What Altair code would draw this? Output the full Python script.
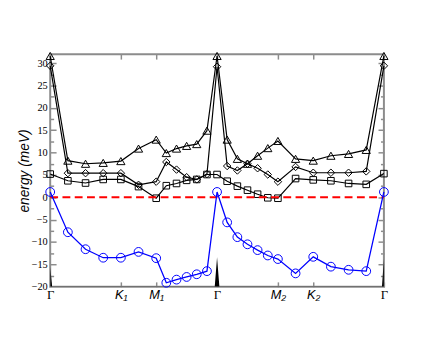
import altair as alt
import pandas as pd

# k-path coordinate of every computed point
kx = [0, 18, 36, 54, 72, 90, 108, 118.3, 128.7, 139, 149.3, 159.7, 170,
      180.3, 190.7, 201, 211.3, 221.7, 232, 250, 268, 286, 304, 322, 340]

# phonon-like bands (black)
e_tri = [31.6, 8.2, 7.5, 7.7, 8.1, 10.9, 12.9, 9.9, 10.9, 11.5, 11.9, 14.9, 31.6,
         12.9, 8.6, 7.5, 9.3, 11.0, 12.6, 8.6, 8.2, 9.3, 9.7, 10.6, 31.6]
e_dia = [29.4, 5.4, 5.4, 5.4, 5.4, 2.8, 3.5, 7.9, 6.2, 4.5, 4.0, 5.2, 29.2,
         7.0, 6.0, 7.5, 6.5, 5.1, 3.5, 6.8, 5.5, 5.5, 5.5, 5.8, 29.4]
e_sq = [5.2, 3.7, 3.2, 4.0, 4.0, 2.4, -0.2, 2.6, 3.1, 3.8, 4.0, 5.1, 5.1,
        3.6, 2.5, 1.6, 0.7, -0.1, -0.2, 4.2, 3.9, 3.7, 3.1, 2.9, 5.3]
# lowest band (blue)
e_blue = [1.2, -7.8, -11.6, -13.5, -13.5, -12.2, -13.6, -19.1, -18.4, -17.8, -17.2, -16.5, 1.2,
          -5.6, -8.9, -10.5, -11.8, -13.0, -13.8, -17.0, -13.3, -15.5, -16.2, -16.5, 1.2]
# band that only rises into view at Gamma (black spikes)
e_spike = [-15.6, -55, -60, -60, -60, -60, -60, -60, -60, -60, -60, -42, -13.4,
           -42, -60, -60, -60, -60, -60, -60, -60, -60, -60, -70, -13.8]

special_k = [0, 72, 108, 170, 232, 268, 340]
special_lab = ["Γ", "K₁", "M₁", "Γ", "M₂", "K₂", "Γ"]

W, H = 340, 237
GRAY = "#8c8c8c"

xs = alt.Scale(domain=[0, 340], nice=False, zero=False)
ys = alt.Scale(domain=[-20, 32], nice=False, zero=False)

label_expr = " : ".join(
    f"datum.value == {k} ? '{l}'" for k, l in zip(special_k, special_lab)) + " : ''"
gamma_test = " || ".join(f"datum.value == {k}" for k, l in zip(special_k, special_lab) if l == "Γ")

ytick_major = [-20, -15, -10, -5, 0, 5, 10, 15, 20, 25, 30]
ytick_all = [-17.5, -15, -12.5, -10, -7.5, -5, -2.5, 0, 2.5, 5, 7.5, 10, 12.5,
             15, 17.5, 20, 22.5, 25, 27.5, 30]

df_spike = pd.DataFrame({"k": kx, "e": e_spike})
df_zero = pd.DataFrame({"k": kx, "e": [0.0] * len(kx)})
df_bands = pd.concat([
    pd.DataFrame({"k": kx, "e": e_tri, "band": "tri"}),
    pd.DataFrame({"k": kx, "e": e_dia, "band": "dia"}),
    pd.DataFrame({"k": kx, "e": e_sq, "band": "sq"}),
])
df_blue = pd.DataFrame({"k": kx, "e": e_blue})

tick_size_cond = {"condition": {"test": "datum.value % 5 == 0", "value": 6}, "value": 3.5}

spike = alt.Chart(df_spike).mark_area(color="black", clip=True).encode(
    x=alt.X("k:Q", scale=xs, axis=alt.Axis(
        orient="bottom", values=special_k, labelExpr=label_expr, ticks=False, domain=False,
        grid=False, title=None, labelFlush=False, labelOverlap=False, labelPadding=2,
        labelFontSize=13, labelColor="black", labelBaseline="top",
        labelFont={"condition": {"test": gamma_test, "value": "Liberation Serif"}, "value": "Liberation Sans"},
        labelFontStyle={"condition": {"test": gamma_test, "value": "normal"}, "value": "italic"})),
    y=alt.Y("e:Q", scale=ys, axis=alt.Axis(
        orient="left", values=ytick_major, ticks=False, domain=False, grid=False,
        labelFont="Liberation Serif", labelFontSize=10.5, labelColor="black", labelPadding=3,
        title="energy (meV)", titleFont="Liberation Sans", titleFontStyle="italic",
        titleFontWeight="normal", titleFontSize=14, titleColor="black",
        titleX=-22, titleY=H / 2, titleAlign="center", titleBaseline="alphabetic", titleAngle=270)),
    y2=alt.datum(-20),
)

zero = alt.Chart(df_zero).mark_line(color="#ff0000", strokeWidth=2, strokeDash=[8, 4.5]).encode(
    x=alt.X("k:Q", scale=xs, axis=alt.Axis(
        orient="bottom", offset=-H, values=special_k, labels=False, domain=False, grid=False,
        title=None, tickSize=5, tickColor=GRAY, tickWidth=1.5)),
    y=alt.Y("e:Q", scale=ys, axis=alt.Axis(
        orient="right", offset=-W, values=ytick_all, labels=False, domain=False, grid=False,
        title=None, tickSize=tick_size_cond, tickColor=GRAY, tickWidth=1.5)),
)

band_lines = alt.Chart(df_bands).mark_line(color="black", strokeWidth=1.2).encode(
    x=alt.X("k:Q", scale=xs, axis=alt.Axis(
        orient="top", offset=-H, values=special_k, labels=False, domain=False, grid=False,
        title=None, tickSize=5, tickColor=GRAY, tickWidth=1.5)),
    y=alt.Y("e:Q", scale=ys, axis=alt.Axis(
        orient="left", offset=-W, values=ytick_all, labels=False, domain=False, grid=False,
        title=None, tickSize=tick_size_cond, tickColor=GRAY, tickWidth=1.5)),
    detail="band:N",
)

band_pts = alt.Chart(df_bands).mark_point(filled=False, color="black", strokeWidth=1, opacity=1).encode(
    x=alt.X("k:Q", scale=xs, axis=None),
    y=alt.Y("e:Q", scale=ys, axis=None),
    shape=alt.Shape("band:N", scale=alt.Scale(domain=["tri", "dia", "sq"],
                                              range=["triangle-up", "diamond", "square"]), legend=None),
    size=alt.Size("band:N", scale=alt.Scale(domain=["tri", "dia", "sq"], range=[70, 45, 45]), legend=None),
)

blue_line = alt.Chart(df_blue).mark_line(color="#0000ff", strokeWidth=1.3).encode(
    x=alt.X("k:Q", scale=xs, axis=None),
    y=alt.Y("e:Q", scale=ys, axis=None),
)
blue_pts = alt.Chart(df_blue).mark_point(shape="circle", filled=False, color="#0000ff",
                                          size=80, strokeWidth=1, opacity=1).encode(
    x=alt.X("k:Q", scale=xs, axis=None),
    y=alt.Y("e:Q", scale=ys, axis=None),
)

chart = alt.layer(spike, band_lines, band_pts, zero, blue_line, blue_pts).resolve_axis(
    x="independent", y="independent"
).properties(
    width=W, height=H,
    autosize=alt.AutoSizeParams(type="none"),
    padding={"left": 43, "top": 44, "right": 49, "bottom": 43},
).configure_view(stroke=GRAY, strokeWidth=2)

chart.save("out.html", embed_options={"renderer": "svg", "actions": False})
